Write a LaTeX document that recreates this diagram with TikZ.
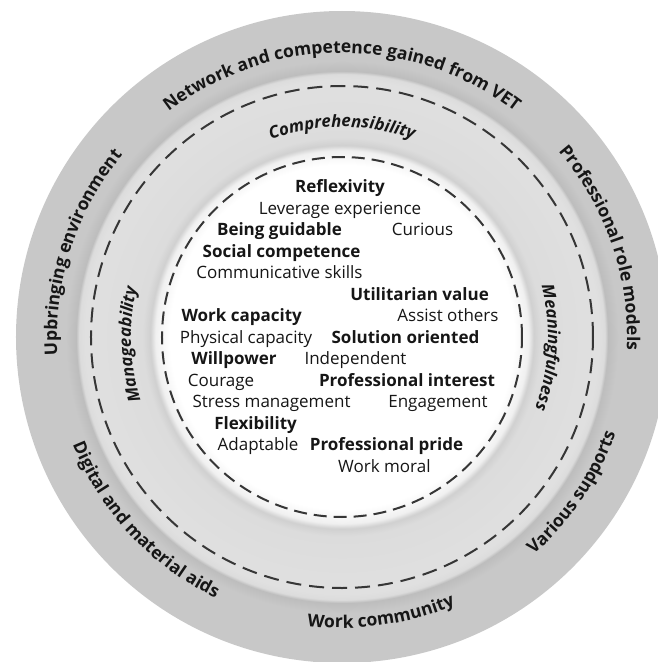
\documentclass[tikz,border=0pt]{standalone}
\usepackage{fontspec}
\setmainfont{Open Sans}
\usetikzlibrary{decorations.text}

\definecolor{bandgray}{HTML}{C8C8C8}
\definecolor{bandshadow}{HTML}{BDBDBD}
\definecolor{ringgray}{HTML}{DCDCDC}
\definecolor{ringlight}{HTML}{E0E0E0}
\definecolor{ringrim}{HTML}{D0D0D0}
\definecolor{innershade}{HTML}{F0F0F0}
\definecolor{dashgray}{HTML}{363636}
\definecolor{textgray}{HTML}{161616}

% 25bp is the rim of the outer disc (r = 326)
\pgfdeclareradialshading{rings}{\pgfpoint{0bp}{0bp}}{%
  color(0bp)=(white); color(13.2bp)=(white); color(14.3bp)=(innershade);
  color(14.7bp)=(ringrim); color(15.3bp)=(ringgray); color(19.7bp)=(ringlight);
  color(20.15bp)=(ringgray); color(20.4bp)=(bandshadow); color(21.2bp)=(bandgray);
  color(25bp)=(bandgray); color(50bp)=(bandgray)}

\newcommand\bandfont{\bfseries\fontsize{17.5}{20}\selectfont}
\newcommand\axisfont{\bfseries\itshape\fontsize{16.8}{19}\selectfont}

\begin{document}
\begin{tikzpicture}[x=1pt,y=1pt,
  trait/.style={font=\bfseries\fontsize{17}{20}\selectfont,text=textgray,inner sep=0pt,text height=0.72em,text depth=0pt},
  skill/.style={font=\fontsize{17}{20}\selectfont,text=textgray,inner sep=0pt,text height=0.72em,text depth=0pt},
  border/.style={dashgray,line width=2pt,dash pattern=on 15pt off 8pt}]
\useasboundingbox (-342,-325) rectangle (316,337);
\clip (-342,-325) rectangle (316,337);

% discs
\shade[shading=rings] (0,0) circle (326);
\draw[border] (0,0) circle (251);
\draw[border,dash pattern=on 13pt off 7pt] (0,0) circle (180);

% outer band
\path[decorate,decoration={text along path,text align=center,text color=textgray,
  text={|\bandfont|Network and competence gained from VET}}]
  (150:284) arc[start angle=150,end angle=30,radius=284];
\path[decorate,decoration={text along path,text align=center,text color=textgray,
  text={|\bandfont|Upbringing environment}}]
  (222:285) arc[start angle=222,end angle=102,radius=285];
\path[decorate,decoration={text along path,text align=center,text color=textgray,
  text={|\bandfont|Professional role models}}]
  (79:285) arc[start angle=79,end angle=-41,radius=285];
\path[decorate,decoration={text along path,text align=center,text color=textgray,
  text={|\bandfont|Digital and material aids}}]
  (163:290) arc[start angle=163,end angle=283,radius=290];
\path[decorate,decoration={text along path,text align=center,text color=textgray,
  text={|\bandfont|Work community}}]
  (218:291) arc[start angle=218,end angle=338,radius=291];
\path[decorate,decoration={text along path,text align=center,text color=textgray,
  text={|\bandfont|Various supports}}]
  (266:290) arc[start angle=266,end angle=386,radius=290];

% middle band
\path[decorate,decoration={text along path,text align=center,text color=textgray,
  text={|\axisfont|Comprehensibility}}]
  (150:210) arc[start angle=150,end angle=30,radius=210];
\path[decorate,decoration={text along path,text align=center,text color=textgray,
  text={|\axisfont|Manageability}}]
  (242:211) arc[start angle=242,end angle=122,radius=211];
\path[decorate,decoration={text along path,text align=center,text color=textgray,
  text={|\axisfont|Meaningfulness}}]
  (57:206) arc[start angle=57,end angle=-63,radius=206];

% inner circle
\node[trait] (reflexivity) at (-2,148) {Reflexivity};
\node[skill] (leverage) at (-2,126.5) {Leverage experience};
\node[trait] (guidable) at (-62.5,105) {Being guidable};
\node[skill] (curious) at (80.6,105) {Curious};
\node[trait] (social) at (-60.4,83.5) {Social competence};
\node[skill] (communicative) at (-62.5,62) {Communicative skills};
\node[trait] (utilitarian) at (77.6,40.5) {Utilitarian value};
\node[trait] (workcap) at (-100.3,19) {Work capacity};
\node[skill] (assist) at (106,19) {Assist others};
\node[skill] (physical) at (-96,-2.5) {Physical capacity};
\node[trait] (solution) at (63.5,-2.5) {Solution oriented};
\node[trait] (willpower) at (-108,-24) {Willpower};
\node[skill] (independent) at (13.5,-24) {Independent};
\node[skill] (courage) at (-121,-45.5) {Courage};
\node[trait] (interest) at (65,-45.5) {Professional interest};
\node[skill] (stress) at (-70.4,-67) {Stress management};
\node[skill] (engagement) at (96,-67) {Engagement};
\node[trait] (flexibility) at (-86.4,-88.5) {Flexibility};
\node[skill] (adaptable) at (-84,-110) {Adaptable};
\node[trait] (pride) at (44.5,-110) {Professional pride};
\node[skill] (moral) at (42.4,-131.5) {Work moral};
\end{tikzpicture}
\end{document}
